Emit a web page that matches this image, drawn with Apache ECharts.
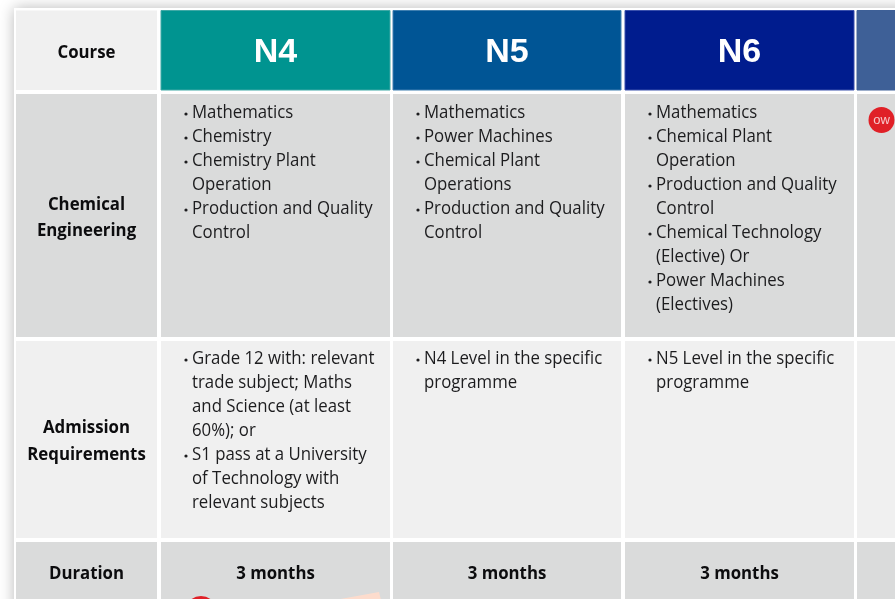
<!DOCTYPE html>
<html>
<head>
<meta charset="utf-8">
<style>
  html, body { margin: 0; padding: 0; background: #fff; }
  #chart { width: 895px; height: 599px; }
</style>
<script src="https://cdn.jsdelivr.net/npm/echarts@6/dist/echarts.min.js"></script>
</head>
<body>
<div id="chart"></div>
<script>
const levels = ['N4', 'N5', 'N6', ''];
const rowTitles = [['Course'], ['Chemical', 'Engineering'], ['Admission', 'Requirements'], ['Duration']];
const chemicalSubjects = [
  [['Mathematics'], ['Chemistry'], ['Chemistry Plant', 'Operation'], ['Production and Quality', 'Control']],
  [['Mathematics'], ['Power Machines'], ['Chemical Plant', 'Operations'], ['Production and Quality', 'Control']],
  [['Mathematics'], ['Chemical Plant', 'Operation'], ['Production and Quality', 'Control'], ['Chemical Technology', '(Elective) Or'], ['Power Machines', '(Electives)']],
];
const admissionRules = [
  [['Grade 12 with: relevant', 'trade subject; Maths', 'and Science (at least', '60%); or'], ['S1 pass at a University', 'of Technology with', 'relevant subjects']],
  [['N4 Level in the specific', 'programme']],
  [['N5 Level in the specific', 'programme']],
];
const durations = ['3 months', '3 months', '3 months', ''];

// layout of the table, in picture pixels
const colEdges = [[16, 157], [161, 390], [393, 621], [625, 854], [857, 900]];
const rowEdges = [[10.5, 90], [94, 337], [341, 538], [542, 610]];
const headColors = ['#009490', '#005595', '#001c8e', '#3e6097'];
const headBorders = ['#3fa9a6', '#3f7fb0', '#3a50ac', '#3e6097'];
const rowColors = ['#f0f0f0', '#dadbdb', '#f0f0f0', '#dadbdb'];
const bodyFont = '"Open Sans"';
const LINE_H = 24;

const cells = [];
rowEdges.forEach((_, r) => colEdges.forEach((_, c) => cells.push([c, r])));

// Open Sans runs wider than the original type, so squeeze it a little
function textEl(x, y, text, weight, align) {
  return {
    type: 'text',
    x, y,
    scaleX: 0.96,
    style: { x: 0, y: 0, text, fill: weight > 400 ? '#0c0c0e' : '#1c1c1e', fontFamily: bodyFont, fontSize: 17.5, fontWeight: weight, align, verticalAlign: 'middle' },
  };
}

function listEls(api, items, c, firstY) {
  const els = [];
  const left = api.coord([colEdges[c][0], 0])[0];
  let line = 0;
  items.forEach(item => {
    item.forEach((t, i) => {
      const y = api.coord([0, firstY + LINE_H * line])[1];
      if (i === 0) {
        els.push({ type: 'circle', shape: { cx: left + 25, cy: y + 1, r: 1.6 }, style: { fill: '#1c1c1e' } });
      }
      els.push(textEl(left + 31, y, t, 400, 'left'));
      line++;
    });
  });
  return els;
}

function renderCell(params, api) {
  const c = api.value(0), r = api.value(1);
  const p0 = api.coord([colEdges[c][0], rowEdges[r][0]]);
  const p1 = api.coord([colEdges[c][1], rowEdges[r][1]]);
  const cx = (p0[0] + p1[0]) / 2;
  const children = [];
  const isHead = r === 0 && c > 0;
  children.push({
    type: 'rect',
    shape: { x: p0[0], y: p0[1], width: p1[0] - p0[0], height: p1[1] - p0[1] },
    style: isHead
      ? { fill: headColors[c - 1], stroke: headBorders[c - 1], lineWidth: 1 }
      : { fill: rowColors[r] },
  });
  if (c === 0) {
    const title = rowTitles[r];
    const mid = [53, 218, 441.5, 574][r];
    title.forEach((t, i) => {
      const y = api.coord([0, mid + (i - (title.length - 1) / 2) * 26.5])[1];
      children.push(textEl(cx, y, t, 700, 'center'));
    });
  } else if (r === 0) {
    children.push({
      type: 'text',
      style: { x: cx, y: api.coord([0, 52.5])[1], text: levels[c - 1], fill: '#fff', fontFamily: '"Liberation Sans"', fontSize: 34, fontWeight: 700, align: 'center', verticalAlign: 'middle' },
    });
  } else if (r === 1 && c < 4) {
    children.push(...listEls(api, chemicalSubjects[c - 1], c, 113));
  } else if (r === 2 && c < 4) {
    children.push(...listEls(api, admissionRules[c - 1], c, 359));
  } else if (r === 3 && durations[c - 1]) {
    children.push(textEl(cx, api.coord([0, 574])[1], durations[c - 1], 700, 'center'));
  }
  return { type: 'group', children };
}

// logo badges and the scrap of peach paper that sit on top of the table
const badges = [[881.5, 120, 13, 'ow'], [201, 612, 16, '']];
const scrap = [[335, 600], [379, 592], [381, 600]];

const chart = echarts.init(document.getElementById('chart'), null, { renderer: 'canvas' });
chart.setOption({
  animation: false,
  backgroundColor: '#ffffff',
  tooltip: { show: false },
  grid: { left: 0, right: 0, top: 0, bottom: 0 },
  xAxis: { type: 'value', min: 0, max: 895, show: false },
  yAxis: { type: 'value', min: 0, max: 599, inverse: true, show: false },
  series: [
    {
      // paper the table is printed on, with its soft shadow
      type: 'custom',
      coordinateSystem: 'cartesian2d',
      silent: true,
      clip: false,
      data: [[14, 8]],
      renderItem: (params, api) => {
        const p = api.coord([api.value(0), api.value(1)]);
        return {
          type: 'rect',
          shape: { x: p[0], y: p[1], width: 1000, height: 700 },
          style: { fill: '#ffffff', shadowBlur: 14, shadowColor: 'rgba(0,0,0,0.28)' },
        };
      },
    },
    {
      type: 'custom',
      coordinateSystem: 'cartesian2d',
      silent: true,
      data: cells,
      renderItem: renderCell,
    },
    {
      type: 'custom',
      coordinateSystem: 'cartesian2d',
      silent: true,
      data: [0],
      renderItem: (params, api) => ({
        type: 'polygon',
        shape: { points: scrap.map(p => api.coord(p)) },
        style: { fill: '#fcdccd' },
      }),
    },
    {
      type: 'custom',
      coordinateSystem: 'cartesian2d',
      silent: true,
      data: badges.map(b => b.slice(0, 3)),
      renderItem: (params, api) => {
        const p = api.coord([api.value(0), api.value(1)]);
        return {
          type: 'group',
          children: [
            { type: 'circle', shape: { cx: p[0], cy: p[1], r: api.value(2) }, style: { fill: '#e02027' } },
            { type: 'text', style: { x: p[0], y: p[1], text: badges[params.dataIndex][3], fill: '#f6c9cb', fontFamily: '"Liberation Sans"', fontSize: 13, align: 'center', verticalAlign: 'middle' } },
          ],
        };
      },
    },
  ],
});
</script>
</body>
</html>
